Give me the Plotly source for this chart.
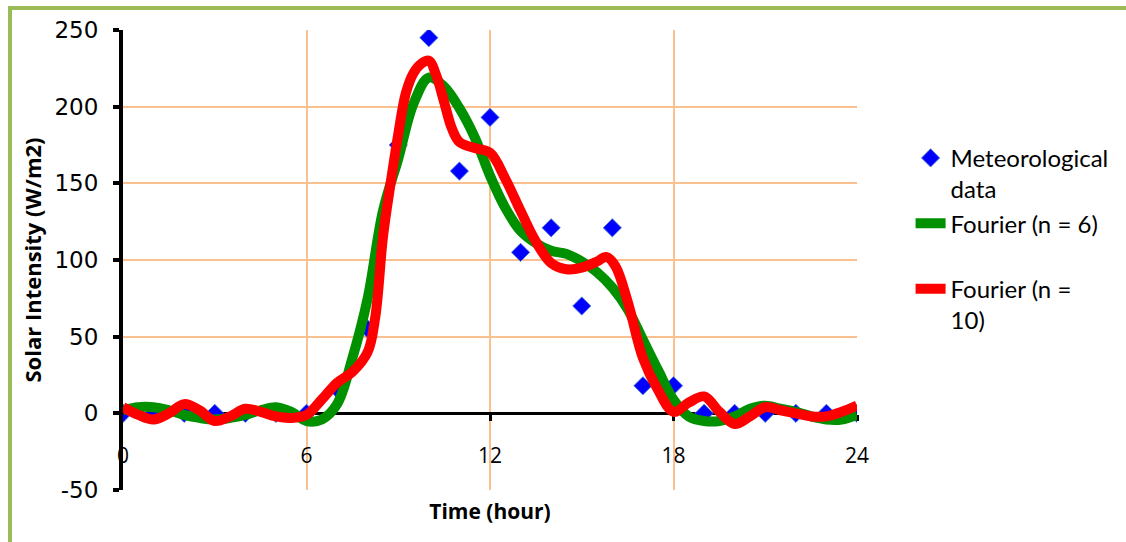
import plotly.graph_objects as go

# Meteorological data (hourly)
hours = list(range(0, 25))
met_values = [0, 0, 0, 0, 0, 0, 0, 16, 55, 175, 245, 158, 193, 105, 121, 70, 121, 18, 18, 0, 0, 0, 0, 0, 0]

# Fourier (n = 6) curve
f6_hours = [0, 0.5, 1, 1.5, 2, 2.5, 3, 3.5, 4, 4.5, 5, 5.5, 6, 6.5, 7, 7.5, 8, 8.5, 9, 9.5, 10,
            10.5, 11, 11.5, 12, 12.5, 13, 13.5, 14, 14.5, 15, 15.5, 16, 16.5, 17, 17.5, 18, 18.5,
            19, 19.5, 20, 20.5, 21, 21.5, 22, 22.5, 23, 23.5, 24]
f6_values = [2, 4, 4, 2, -1, -3, -4, -3, -1, 2, 4, 1, -5, -4, 6, 36, 75, 132, 166, 202, 219,
             213, 199, 180, 155, 134, 119, 111, 106, 104, 99, 92, 82, 68, 48, 28, 9, -2,
             -5, -5, -2, 3, 5, 3, 1, -2, -4, -4, -1]

# Fourier (n = 10) curve
f10_hours = [0, 0.5, 1, 1.5, 2, 2.5, 3, 3.5, 4, 4.5, 5, 5.5, 6, 6.5, 7, 7.5, 8, 8.25, 8.5, 8.75,
             9, 9.25, 9.5, 9.75, 10, 10.25, 10.5, 10.75, 11, 11.5, 12, 12.5, 13, 13.5, 14, 14.5,
             15, 15.5, 15.8, 16.1, 16.5, 17, 17.5, 18, 18.5, 19, 19.5, 20, 20.5, 21, 21.5, 22,
             22.5, 23, 23.5, 24]
f10_values = [4, -1, -4, 0, 6, 2, -5, -2, 3, 1, -2, -3, -1, 9, 20, 27, 40, 63, 115, 150,
              182, 209, 222, 228, 230, 220, 203, 186, 177, 173, 170, 153, 132, 112, 98, 94,
              95, 99, 102, 96, 73, 36, 15, 1, 7, 11, 1, -7, -2, 4, 2, 0,
              -2, -2, 1, 5]

x_ticks = [0, 6, 12, 18, 24]
y_ticks = [-50, 0, 50, 100, 150, 200, 250]
y_tick_text = ["-50", "0", "50", "100", "150", "200", "250"]

fig = go.Figure()
fig.add_trace(go.Scatter(
    x=hours, y=met_values, mode="markers", name="Meteorological<br>data",
    legendgroup="a",
    marker=dict(symbol="diamond", size=14, color="#0000FF",
                line=dict(color="rgba(80,120,210,0.9)", width=1)),
))
fig.add_trace(go.Scatter(
    x=f6_hours, y=f6_values, mode="lines", name="Fourier (n = 6)<br> ",
    legendgroup="b",
    line=dict(color="#009000", width=10, shape="spline", smoothing=1.0),
))
fig.add_trace(go.Scatter(
    x=f10_hours, y=f10_values, mode="lines", name="Fourier (n =<br>10)",
    legendgroup="c",
    line=dict(color="#FF0000", width=10, shape="spline", smoothing=1.0),
))

grid_col = "#FAC090"
fig.update_layout(
    width=1126, height=542,
    margin=dict(l=123, r=269, t=30, b=52),
    paper_bgcolor="white", plot_bgcolor="white",
    showlegend=True,
    legend=dict(
        x=1.073, y=0.77, xanchor="left", yanchor="top",
        font=dict(family="Lato", size=24, color="black"),
        valign="top", tracegroupgap=0, bgcolor="rgba(0,0,0,0)",
    ),
    xaxis=dict(
        range=[0, 24], tickvals=x_ticks, ticktext=[str(v) for v in x_ticks],
        showgrid=True, gridcolor=grid_col, gridwidth=2,
        zeroline=False,
        showline=True, linecolor="black", linewidth=3,
        anchor="free", position=1/6,
        ticks="outside", ticklen=6, tickwidth=3, tickcolor="black",
        ticklabelstandoff=16,
        tickfont=dict(family="Open Sans", size=21, color="black"),
        layer="below traces",
        title=dict(text="Time (hour)", standoff=36,
                   font=dict(family="Open Sans", size=21, color="black", weight="bold")),
    ),
    yaxis=dict(
        range=[-50, 250], tickvals=y_ticks, ticktext=y_tick_text,
        showgrid=True, gridcolor=grid_col, gridwidth=2,
        zeroline=False,
        showline=True, linecolor="black", linewidth=4,
        ticks="outside", ticklen=6, tickwidth=4, tickcolor="black",
        ticklabelstandoff=10,
        tickfont=dict(family="DejaVu Sans", size=23, color="black"),
        layer="below traces",
        title=dict(text="Solar Intensity (W/m2)", standoff=8,
                   font=dict(family="Open Sans", size=22, color="black", weight="bold")),
    ),
)

# green chart-area border (top and left)
border = "#9BBB59"
fig.add_shape(type="line", xref="paper", yref="paper",
              x0=(10 - 123) / 734, x1=(1130 - 123) / 734,
              y0=(490 - 8) / 460, y1=(490 - 8) / 460,
              line=dict(color=border, width=4))
fig.add_shape(type="line", xref="paper", yref="paper",
              x0=(10 - 123) / 734, x1=(10 - 123) / 734,
              y0=(490 - 6) / 460, y1=(490 - 545) / 460,
              line=dict(color=border, width=4))

fig.write_html("out.html")
